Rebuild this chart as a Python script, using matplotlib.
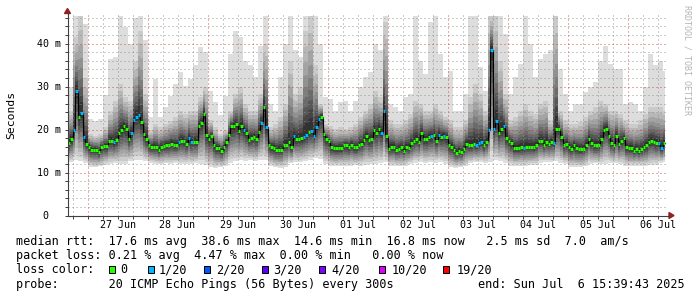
import numpy as np
import matplotlib
matplotlib.use("Agg")
import matplotlib.pyplot as plt
from matplotlib.patches import Rectangle, Polygon
from matplotlib.lines import Line2D

# ---------------- data ----------------
# hourly median RTT (ms), first hour starts 26 Jun 16:00
median_ms = [
    16.9, 17.8, 19.8, 28.9, 23.0, 23.8, 18.2, 16.7, 16.0, 15.3, 15.3, 15.3, 14.7, 15.9, 16.1, 16.1,
    17.4, 17.4, 17.0, 17.6, 19.1, 19.9, 20.7, 20.2, 17.8, 19.1, 22.2, 23.0, 23.3, 21.7, 19.0, 17.8,
    16.3, 15.9, 16.0, 15.9, 15.3, 16.0, 16.1, 16.3, 16.3, 16.7, 16.3, 16.3, 17.0, 17.4, 17.3, 16.7,
    18.1, 17.1, 17.2, 17.2, 20.7, 21.6, 23.6, 18.8, 17.8, 18.4, 16.3, 15.7, 15.7, 15.0, 16.0, 17.2,
    18.8, 20.7, 20.7, 21.2, 19.6, 20.9, 19.9, 19.1, 17.6, 18.0, 18.2, 17.8, 19.4, 21.5, 25.3, 20.5,
    16.5, 15.9, 15.7, 15.3, 15.3, 15.3, 16.5, 16.5, 17.1, 16.0, 18.4, 17.8, 17.8, 18.0, 18.2, 18.8,
    19.4, 19.6, 18.6, 20.5, 22.4, 23.0, 19.0, 17.8, 17.4, 15.9, 15.7, 15.6, 15.7, 15.7, 16.3, 16.3,
    15.9, 16.5, 15.9, 15.9, 16.5, 16.7, 17.6, 18.5, 17.6, 17.8, 19.8, 19.1, 20.2, 19.3, 24.4, 18.4,
    15.5, 15.9, 16.0, 15.3, 15.5, 15.9, 15.1, 16.0, 15.7, 16.8, 17.3, 17.8, 17.2, 19.1, 17.8, 17.8,
    18.2, 18.4, 18.8, 17.4, 18.8, 18.2, 18.6, 18.2, 16.3, 15.9, 15.3, 14.6, 15.0, 14.7, 15.5, 16.7,
    16.3, 16.3, 16.7, 16.3, 16.8, 17.1, 16.3, 17.2, 20.0, 38.6, 20.1, 21.9, 19.3, 20.1, 20.7, 18.1,
    17.4, 16.8, 15.7, 15.7, 15.7, 15.9, 15.7, 16.0, 16.0, 16.0, 15.9, 16.3, 17.4, 17.4, 16.5, 17.2,
    16.7, 17.2, 16.8, 20.2, 20.2, 18.2, 16.3, 16.7, 16.0, 15.5, 16.3, 15.7, 15.5, 15.5, 15.5, 16.5,
    17.8, 16.9, 16.3, 16.3, 16.3, 17.8, 19.8, 20.2, 18.6, 16.8, 16.3, 18.4, 16.7, 17.4, 18.0, 15.9,
    15.7, 15.7, 15.0, 15.5, 15.0, 15.5, 15.9, 16.3, 17.1, 17.4, 17.2, 16.8, 16.8, 15.7, 16.8,
]
# hours (index into median_ms) with 1/20 packet loss
loss_1_of_20_hours = [2, 3, 5, 6, 18, 25, 26, 27, 28, 44, 48, 49, 70, 77, 79, 90, 94, 95, 97, 98,
                      99, 100, 125, 126, 145, 148, 150, 163, 164, 165, 168, 169, 170, 171, 174,
                      182, 194, 236, 237]

# smoke envelopes, 2-hour resolution (ms)
smoke_max = [
    30.0, 46.5, 46.5, 44.5, 22.5, 22.0, 22.5, 28.0, 36.4, 36.8, 46.5, 43.8, 40.0, 46.0, 46.5, 40.7,
    22.9, 31.8, 22.9, 25.2, 27.9, 30.6, 33.3, 30.2,
    31.8, 34.9, 39.1, 38.0, 29.0, 26.4, 23.3, 27.9, 37.6, 43.0, 41.5, 36.0, 34.9, 32.2, 39.5, 46.5,
    26.0, 24.4, 32.2, 40.0, 46.5, 38.4, 36.8, 46.5,
    46.5, 46.5, 40.0, 27.5, 27.1, 24.4, 26.4, 26.7, 24.4, 26.7, 29.8, 32.2, 33.3, 40.0, 38.4, 46.5,
    26.0, 25.2, 24.4, 27.5, 28.3, 46.5, 36.0, 33.0,
    45.0, 46.5, 37.6, 32.2, 33.7, 24.4, 24.4, 28.3, 46.5, 46.5, 34.5, 29.0, 46.5, 46.5, 46.5, 42.2,
    28.3, 32.2, 35.3, 46.5, 40.0, 32.2, 36.4, 37.6,
    38.4, 46.5, 34.1, 28.3, 24.4, 26.0, 26.0, 28.7, 29.8, 31.0, 36.0, 39.5, 35.3, 34.1, 34.1, 26.0,
    26.4, 26.0, 24.4, 29.8, 37.6, 34.9, 36.0, 33.7,
]
smoke_mid = [
    24.4, 41.5, 46.5, 32.0, 19.0, 18.6, 19.0, 20.5, 24.4, 26.7, 30.6, 27.5, 26.7, 36.0, 43.0, 28.3,
    19.8, 21.3, 20.5, 21.3, 22.0, 22.9, 24.4, 23.6,
    24.4, 24.4, 27.5, 29.8, 22.1, 20.5, 19.0, 19.8, 24.4, 28.3, 29.8, 26.0, 24.4, 24.4, 28.3, 40.0,
    20.5, 21.3, 22.9, 26.0, 36.0, 28.3, 29.8, 43.0,
    46.5, 35.0, 26.0, 21.3, 20.9, 20.2, 20.5, 20.2, 20.5, 21.3, 22.9, 24.4, 26.0, 29.0, 27.5, 45.0,
    22.1, 21.3, 21.3, 22.1, 23.6, 26.7, 26.0, 24.4,
    24.4, 26.0, 24.4, 22.9, 22.1, 20.5, 20.5, 22.1, 27.5, 30.6, 28.3, 24.4, 46.5, 46.5, 36.0, 28.3,
    22.1, 22.9, 24.4, 26.0, 24.4, 23.6, 26.0, 26.7,
    22.1, 46.5, 24.4, 22.1, 21.3, 21.3, 21.7, 22.9, 24.4, 25.2, 26.7, 26.0, 24.4, 24.4, 23.6, 22.1,
    21.3, 21.3, 22.1, 23.6, 25.2, 25.2, 25.2, 24.4,
]
smoke_min = [
    12.4, 12.8, 12.6, 12.2, 11.3, 11.2, 11.4, 11.8, 12.0, 12.1, 12.0, 11.9, 12.6, 12.8, 12.9, 12.7,
    12.3, 12.0, 11.9, 12.1, 12.0, 12.2, 12.0, 11.9,
    12.0, 12.1, 12.0, 11.7, 11.2, 11.1, 11.2, 11.4, 12.3, 12.6, 12.8, 12.7, 12.8, 12.6, 12.9, 12.8,
    11.6, 11.2, 11.1, 11.3, 12.1, 12.4, 12.4, 12.6,
    13.0, 13.4, 13.2, 12.0, 11.6, 11.5, 11.6, 11.4, 11.6, 11.7, 11.6, 11.8, 11.9, 12.0, 12.2, 12.4,
    11.6, 11.5, 11.4, 11.6, 12.0, 12.3, 12.4, 12.2,
    12.4, 12.3, 12.4, 12.0, 11.3, 11.1, 11.2, 11.5, 12.2, 12.4, 12.4, 12.3, 12.5, 12.8, 12.6, 12.3,
    11.6, 11.5, 11.6, 11.6, 11.7, 11.8, 12.3, 12.4,
    12.4, 12.6, 12.3, 12.0, 11.3, 11.2, 11.2, 11.5, 12.0, 12.1, 11.9, 12.0, 12.2, 12.1, 12.0, 11.6,
    11.5, 11.6, 11.6, 11.5, 11.7, 11.8, 12.3, 12.4,
]

day_labels = ["27 Jun", "28 Jun", "29 Jun", "30 Jun", "01 Jul", "02 Jul", "03 Jul", "04 Jul",
              "05 Jul", "06 Jul"]
ytick_values = [0, 10, 20, 30, 40]
ytick_labels = ["0", "10 m", "20 m", "30 m", "40 m"]
loss_labels = ["0", "1/20", "2/20", "3/20", "4/20", "10/20", "19/20"]
loss_colors = ["#26ff00", "#00b8ff", "#0059ff", "#5e00ff", "#7e00ff", "#dd00ff", "#ff0000"]

line_rtt = "median rtt:  17.6 ms avg  38.6 ms max  14.6 ms min  16.8 ms now   2.5 ms sd  7.0  am/s"
line_loss = "packet loss: 0.21 % avg  4.47 % max  0.00 % min   0.00 % now"
line_probe = "probe:       20 ICMP Echo Pings (56 Bytes) every 300s"
line_end = "end: Sun Jul  6 15:39:43 2025"

# ---------------- layout ----------------
W, H = 697, 297
MONO = "DejaVu Sans Mono"
fig = plt.figure(figsize=(W / 100, H / 100), dpi=100)
fig.patch.set_facecolor("white")


def fx(px):
    return px / W


def fy(py):
    return 1 - py / H


X0, X1 = 67.5, 668
YT, YB = 14, 215.5
PX_PER_H = 2.5
PX_PER_MS = 4.3
T0 = -8.0  # hours relative to 27 Jun 00:00

ax = fig.add_axes([fx(X0), fy(YB), (X1 - X0) / W, (YB - YT) / H])
ax.set_xlim(T0, T0 + (X1 - X0) / PX_PER_H)
ax.set_ylim(0, (YB - YT) / PX_PER_MS)
ax.set_facecolor("white")
for s in ax.spines.values():
    s.set_visible(False)

# ---------------- smoke ----------------
med = np.array(median_ms)
n = len(med)
t = T0 + np.arange(n + 1)
hi = np.repeat(smoke_max, 2)[:n]
mid = np.maximum(np.repeat(smoke_mid, 2)[:n], med)
lo = np.minimum(np.repeat(smoke_min, 2)[:n], med)
hi = np.maximum(hi, mid)

up_frac = [None, None, 0.85, 0.70, 0.57, 0.46, 0.36, 0.27, 0.19, 0.11]
lo_frac = [1.0, 0.9, 0.8, 0.7, 0.6, 0.5, 0.4, 0.3, 0.2, 0.1]
shades = np.linspace(221, 50, 10)
for k in range(10):
    if k == 0:
        top = hi
    elif k == 1:
        top = mid
    else:
        top = med + up_frac[k] * (mid - med)
    bot = med - lo_frac[k] * (med - lo)
    g = int(shades[k])
    ax.fill_between(t, np.append(bot, bot[-1]), np.append(top, top[-1]), step="post",
                    color="#%02x%02x%02x" % (g, g, g), lw=0, zorder=1)

# ---------------- grid ----------------
gkw = dict(lw=1.0, linestyle=(0, (1, 1.5)), zorder=2, antialiased=False)
for h in np.arange(-6, 233, 6):
    if h % 24 != 0:
        ax.axvline(h, color="#8c8c8c", alpha=0.45, **gkw)
for h in np.arange(0, 233, 24):
    ax.axvline(h, color="#d03030", alpha=0.42, **gkw)
for v in np.arange(2, 47, 2):
    if v % 10 != 0:
        ax.axhline(v, color="#8c8c8c", alpha=0.45, **gkw)
for v in [10, 20, 30, 40]:
    ax.axhline(v, color="#d03030", alpha=0.42, **gkw)

# ---------------- median ----------------
ax.step(t, np.append(med, med[-1]), where="post", color="black", lw=0.8, zorder=3)
seg_colors = [loss_colors[0]] * n
for h in loss_1_of_20_hours:
    seg_colors[h] = loss_colors[1]
ax.hlines(med, t[:-1], t[1:], colors=seg_colors, lw=2.2, zorder=4)

# ticks
ax.set_xticks(np.arange(0, 233, 24))
ax.set_xticks(np.arange(-6, 233, 6), minor=True)
ax.set_yticks(ytick_values)
ax.set_yticks(np.arange(0, 47, 2), minor=True)
ax.set_xticklabels([])
ax.set_yticklabels([])
ax.tick_params(which="both", direction="out", length=2.2, width=0.72, color="#404040")

# axes lines + arrows
axis_col = "#404040"
arrow_col = "#961e1e"
fig.add_artist(Line2D([fx(67.5), fx(67.5)], [fy(215.5), fy(12)], color=axis_col, lw=0.8))
fig.add_artist(Line2D([fx(67.5), fx(670)], [fy(215.5), fy(215.5)], color=axis_col, lw=0.8))
fig.add_artist(Polygon([[fx(67.5), fy(8.5)], [fx(64.5), fy(13.5)], [fx(70.5), fy(13.5)]],
                       closed=True, transform=fig.transFigure, color=arrow_col))
fig.add_artist(Polygon([[fx(674), fy(215.5)], [fx(669), fy(212.5)], [fx(669), fy(218.5)]],
                       closed=True, transform=fig.transFigure, color=arrow_col))

# tick labels
for k, lab in enumerate(day_labels):
    xpx = X0 + (12 + 24 * k - T0) * PX_PER_H
    fig.text(fx(xpx), fy(227.5), lab, ha="center", va="baseline", family=MONO, fontsize=7.2)
for v, lab in zip(ytick_values, ytick_labels):
    ypx = YB - v * PX_PER_MS
    xr = 60.5 if lab != "0" else 48
    fig.text(fx(xr), fy(ypx + 3.6), lab, ha="right", va="baseline", family=MONO, fontsize=7.2)

fig.text(fx(11), fy(114.5), "Seconds", rotation=90, ha="center", va="center",
         family=MONO, fontsize=8.2)
fig.text(fx(687), fy(60), "RRDTOOL / TOBI OETIKER", rotation=270, ha="center", va="center",
         family=MONO, fontsize=6.0, color="#b4b4b4")

# legend
LFS = 8.5
fig.text(fx(16), fy(244.5), line_rtt, ha="left", va="baseline", family=MONO, fontsize=LFS)
fig.text(fx(16), fy(259), line_loss, ha="left", va="baseline", family=MONO, fontsize=LFS)
fig.text(fx(16), fy(273.3), "loss color:", ha="left", va="baseline", family=MONO, fontsize=LFS)
box_x = [108, 147, 203, 261, 318, 378, 442]
lab_x = [120, 159, 216, 273, 331, 392, 457]
for bx, lx, lab, col in zip(box_x, lab_x, loss_labels, loss_colors):
    fig.add_artist(Rectangle((fx(bx + 0.5), fy(272.5)), 6.5 / W, 6.5 / H,
                             transform=fig.transFigure, facecolor=col, edgecolor="black", lw=0.72))
    fig.text(fx(lx), fy(273.3), lab, ha="left", va="baseline", family=MONO, fontsize=LFS)
fig.text(fx(16), fy(287.7), line_probe, ha="left", va="baseline", family=MONO, fontsize=LFS)
fig.text(fx(478), fy(287.7), line_end, ha="left", va="baseline", family=MONO, fontsize=LFS)

fig.savefig("out.png", dpi=100, facecolor="white")
